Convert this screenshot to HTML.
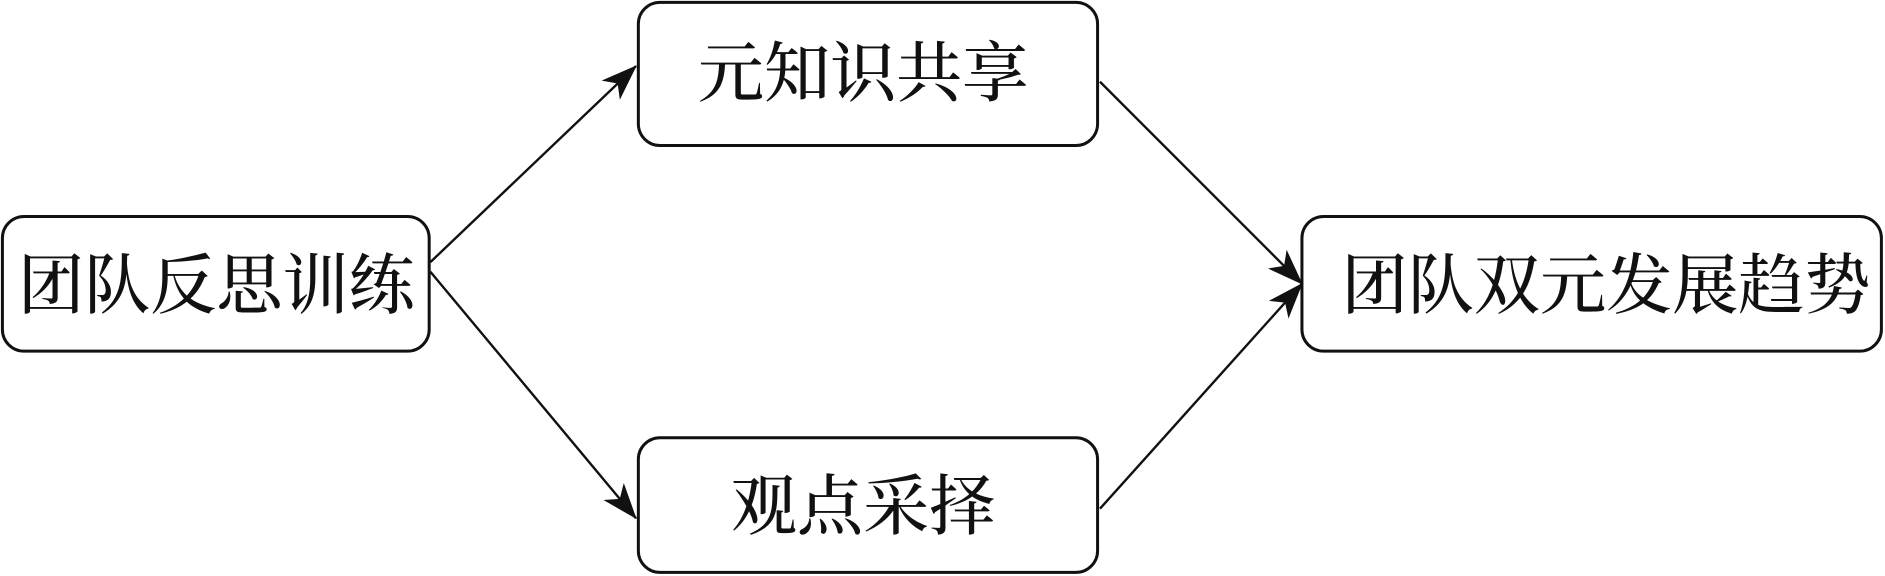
<!DOCTYPE html>
<html><head><meta charset="utf-8"><style>
html,body{margin:0;padding:0;background:#fff;}
svg{display:block;}
text{font-family:"Liberation Serif","Noto Serif CJK SC",serif;font-size:55px;font-weight:500;fill:#111;}
</style></head><body>
<svg width="1885" height="576" viewBox="0 0 1568 479" preserveAspectRatio="none" xmlns="http://www.w3.org/2000/svg">
<defs>
<marker id="a" markerWidth="30" markerHeight="22" refX="29" refY="11" orient="auto" markerUnits="userSpaceOnUse" viewBox="0 0 30 22">
<path d="M0,0 L30,11 L0,22 L8,11 Z" fill="#111"/>
</marker>
</defs>
<g fill="none" stroke="#111" stroke-width="2.5">
<rect x="2" y="180" width="355" height="112" rx="18"/>
<rect x="531" y="2" width="382" height="119" rx="18"/>
<rect x="531" y="364" width="382" height="112" rx="18"/>
<rect x="1083" y="180" width="482" height="112" rx="18"/>
</g>
<g stroke="#111" stroke-width="2">
<line x1="358" y1="218" x2="529" y2="55" marker-end="url(#a)"/>
<line x1="358" y1="226" x2="529" y2="431" marker-end="url(#a)"/>
<line x1="915" y1="68" x2="1083" y2="236" marker-end="url(#a)"/>
<line x1="915" y1="423" x2="1083" y2="236" marker-end="url(#a)"/>
</g>
<text x="180" y="256" text-anchor="middle">团队反思训练</text>
<text x="718" y="80" text-anchor="middle">元知识共享</text>
<text x="718" y="440" text-anchor="middle">观点采择</text>
<text x="1336" y="256" text-anchor="middle">团队双元发展趋势</text>
</svg>
</body></html>
